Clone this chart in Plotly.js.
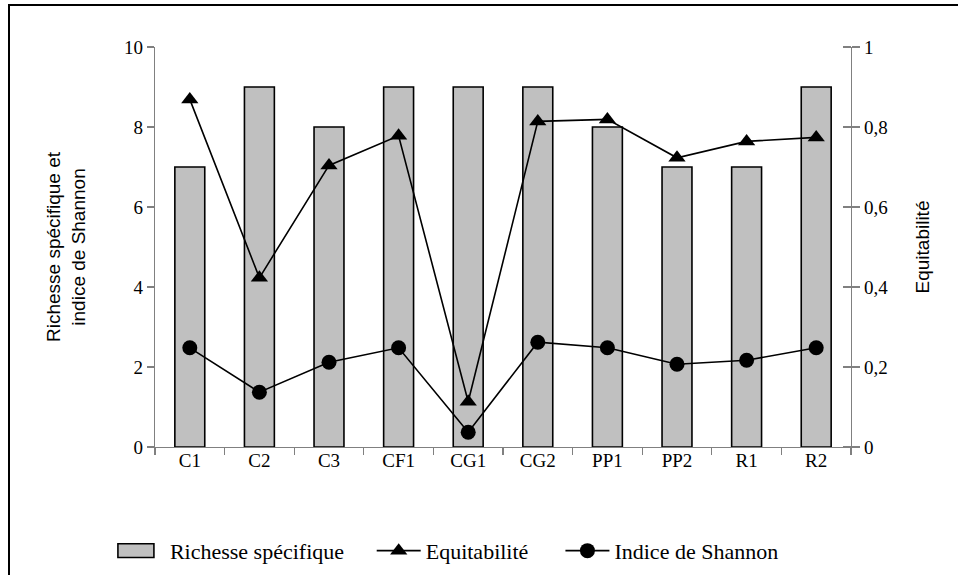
<!DOCTYPE html>
<html>
<head>
<meta charset="utf-8">
<script src="https://cdn.plot.ly/plotly-3.0.1.min.js"></script>
<style>
  html, body { margin: 0; padding: 0; background: #ffffff; }
  #wrap { position: relative; width: 958px; height: 575px; overflow: hidden; }
  #chart { position: absolute; left: 0; top: 0; width: 958px; height: 575px; }
  #frame { position: absolute; left: 8px; top: 4px; width: 1000px; height: 1000px;
           border-left: 2px solid #000; border-top: 2px solid #000; pointer-events: none; }
  /* wide rectangular swatch for the bar series */
  #chart g.legend .traces:first-of-type .legendpoints path {
    transform: translate(20px, 0px) scale(3, 1.15);
    vector-effect: non-scaling-stroke;
  }
</style>
</head>
<body>
<div id="wrap">
  <div id="chart"></div>
  <div id="frame"></div>
</div>
<script>
// Stations sampled
const stations = ["C1", "C2", "C3", "CF1", "CG1", "CG2", "PP1", "PP2", "R1", "R2"];
// Number of species per station
const richesse = [7, 9, 8, 9, 9, 9, 8, 7, 7, 9];
// Evenness (right axis)
const equitabilite = [0.869, 0.423, 0.704, 0.778, 0.113, 0.814, 0.819, 0.723, 0.764, 0.774];
// Shannon diversity index (left axis)
const shannon = [2.48, 1.37, 2.12, 2.48, 0.37, 2.62, 2.48, 2.07, 2.17, 2.48];

const leftTicks = [0, 2, 4, 6, 8, 10];
const rightTicks = [0, 0.2, 0.4, 0.6, 0.8, 1];
const rightTickText = ["0", "0,2", "0,4", "0,6", "0,8", "1"];

const serif = "Liberation Serif, Times New Roman, serif";
const sans = "Liberation Sans, Arial, sans-serif";
const axisGrey = "#808080";

const traces = [
  {
    type: "bar", name: "Richesse spécifique", legend: "legend",
    x: stations, y: richesse, yaxis: "y",
    width: 0.43,
    marker: { color: "#c0c0c0", line: { color: "#000000", width: 1.6 } }
  },
  {
    type: "scatter", mode: "lines+markers", name: "Equitabilité", legend: "legend2",
    x: stations, y: equitabilite, yaxis: "y2",
    line: { color: "#000000", width: 1.6 },
    marker: { symbol: "triangle-up", size: 15, color: "#000000" }
  },
  {
    type: "scatter", mode: "lines+markers", name: "Indice de Shannon", legend: "legend3",
    x: stations, y: shannon, yaxis: "y",
    line: { color: "#000000", width: 1.6 },
    marker: { symbol: "circle", size: 15, color: "#000000" }
  },
  // empty trace so the inner-tick axis is drawn
  { type: "scatter", x: [], y: [], yaxis: "y3", showlegend: false, hoverinfo: "skip" }
];

// one legend per series, laid out in a row under the chart
function legendAt(x) {
  return {
    orientation: "h", xref: "container", x: x, xanchor: "left",
    yref: "container", y: 0.042, yanchor: "middle",
    font: { family: serif, size: 22, color: "#000000" },
    itemwidth: 44, bgcolor: "rgba(0,0,0,0)"
  };
}

const layout = {
  width: 958, height: 575,
  margin: { l: 155, r: 107, t: 47, b: 128 },
  paper_bgcolor: "#ffffff", plot_bgcolor: "#ffffff",
  showlegend: true,
  legend: legendAt(0.121),
  legend2: legendAt(0.388),
  legend3: legendAt(0.585),
  xaxis: {
    type: "category", range: [-0.5, 9.5],
    showline: true, linecolor: axisGrey, linewidth: 1.3,
    ticks: "outside", tickson: "boundaries", ticklen: 7, tickcolor: axisGrey, tickwidth: 1.3,
    ticklabelstandoff: -4,
    showgrid: false, zeroline: false,
    tickfont: { family: serif, size: 19, color: "#000000" }
  },
  yaxis: {
    range: [0, 10], tickvals: leftTicks, ticktext: leftTicks.map(String),
    showline: true, linecolor: axisGrey, linewidth: 1.3,
    ticks: "outside", ticklen: 7, tickcolor: axisGrey, tickwidth: 1.3,
    showgrid: false, zeroline: false,
    tickfont: { family: serif, size: 19, color: "#000000" },
    title: { text: "Richesse spécifique et<br>indice de Shannon",
             font: { family: sans, size: 19, color: "#000000" }, standoff: 33 }
  },
  yaxis2: {
    range: [0, 1], overlaying: "y", side: "right", anchor: "x",
    tickvals: rightTicks, ticktext: rightTickText,
    showline: true, linecolor: axisGrey, linewidth: 1.3,
    ticks: "outside", ticklen: 8, tickcolor: axisGrey, tickwidth: 1.3,
    showgrid: false, zeroline: false,
    tickfont: { family: serif, size: 19, color: "#000000" },
    title: { text: "Equitabilité",
             font: { family: sans, size: 19, color: "#000000" }, standoff: 28 }
  },
  // inner half of the crossing ticks on the right axis
  yaxis3: {
    range: [0, 1], overlaying: "y", side: "left", anchor: "free", position: 1,
    tickvals: rightTicks, showticklabels: false,
    showline: false, ticks: "outside", ticklen: 8, tickcolor: axisGrey, tickwidth: 1.3,
    showgrid: false, zeroline: false
  }
};

Plotly.newPlot("chart", traces, layout, { staticPlot: true, displayModeBar: false });
</script>
</body>
</html>
